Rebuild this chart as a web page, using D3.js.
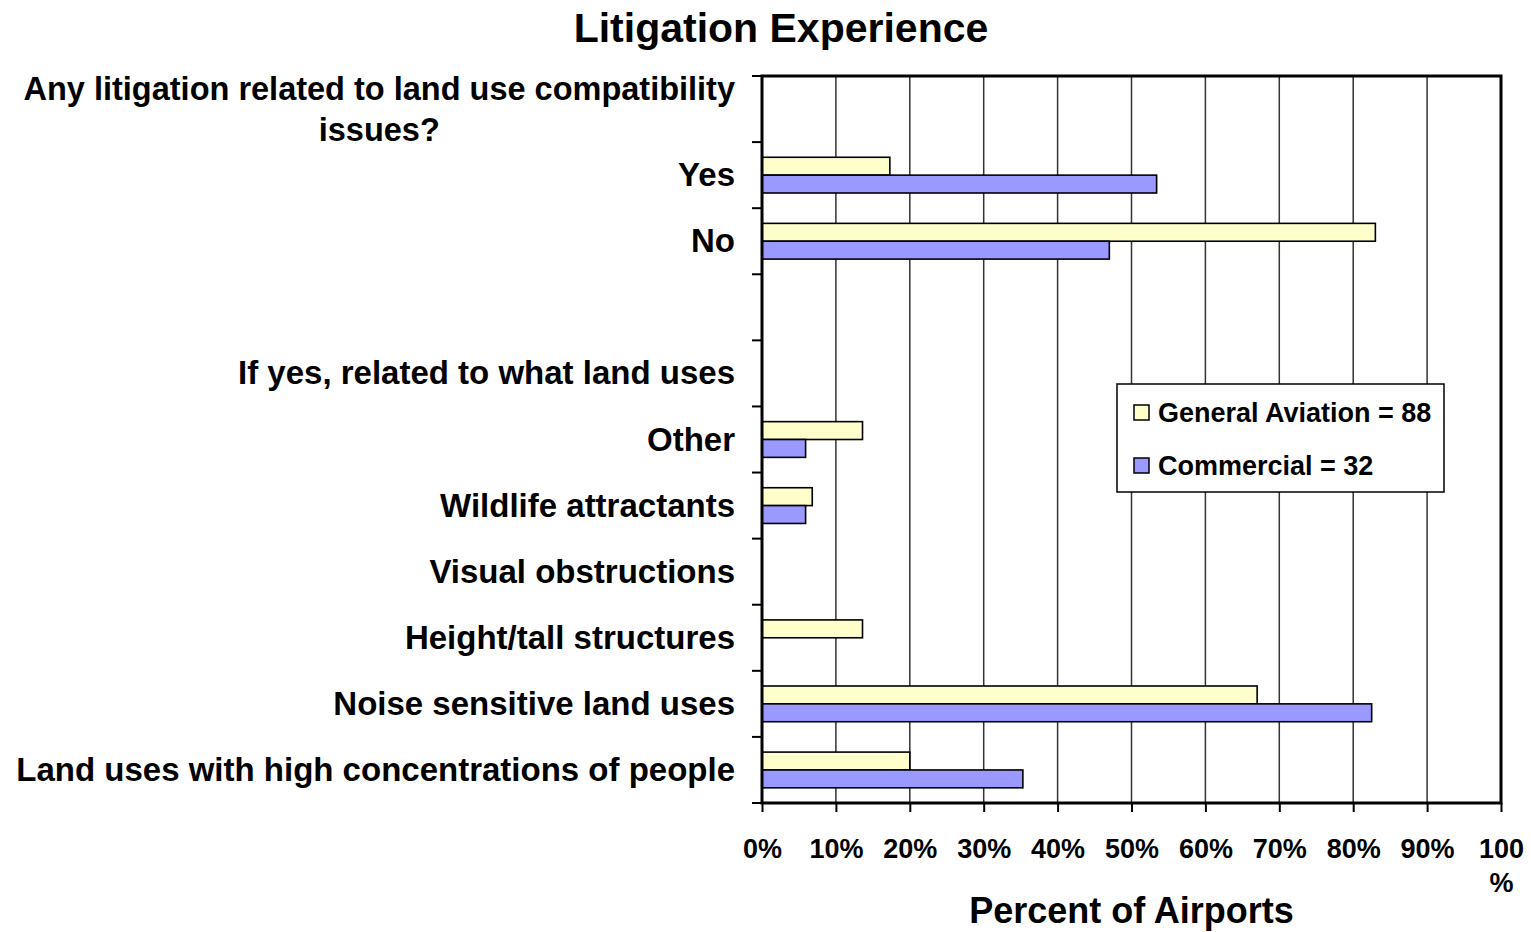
<!DOCTYPE html>
<html>
<head>
<meta charset="utf-8">
<script src="https://cdn.jsdelivr.net/npm/d3@7"></script>
<style>
  body { margin: 0; background: #fff; }
  text { font-family: "Liberation Sans", Arial, sans-serif; font-weight: bold; fill: #000; }
</style>
</head>
<body>
<div class="chart"></div>
<script>
// rows of the chart, top to bottom (header rows have no bars)
const categories = [
    "Any litigation related to land use compatibility issues?",
    "Yes",
    "No",
    "",
    "If yes, related to what land uses",
    "Other",
    "Wildlife attractants",
    "Visual obstructions",
    "Height/tall structures",
    "Noise sensitive land uses",
    "Land uses with high concentrations of people"
];
const generalAviation = [null, 17.3, 83, null, null, 13.6, 6.8, 0, 13.6, 67, 20];
const commercial = [null, 53.4, 47, null, null, 5.9, 5.9, 0, 0, 82.5, 35.3];
const seriesNames = ["General Aviation = 88", "Commercial = 32"];
const seriesColors = ["#FFFFCC", "#9999FF"];
const xTicks = [0, 10, 20, 30, 40, 50, 60, 70, 80, 90, 100];

const width = 1531;
const height = 932;
const margin = {top: 76, right: 30, bottom: 128, left: 762};

const svg = d3.select('.chart').append('svg')
    .attr('width', width)
    .attr('height', height);

const x = d3.scaleLinear()
    .domain([0, 100])
    .range([margin.left, 1501]);

const y = d3.scaleBand()
    .domain(d3.range(categories.length))
    .range([margin.top, height - margin.bottom - 1])
    .padding(0);

const sub = d3.scaleBand()
    .domain([0, 1])
    .range([0, y.bandwidth()])
    .paddingInner(0)
    .paddingOuter(0.85);

// gridlines
svg.append('g')
    .selectAll('line')
    .data(xTicks.slice(1, -1))
    .enter()
    .append('line')
    .attr('x1', d => x(d))
    .attr('x2', d => x(d))
    .attr('y1', y.range()[0])
    .attr('y2', y.range()[1])
    .attr('stroke', '#333')
    .attr('stroke-width', 1.5);

// bars
const series = [generalAviation, commercial];
series.forEach((vals, s) => {
    svg.append('g')
        .selectAll('rect')
        .data(vals.map((v, i) => ({v, i})).filter(d => d.v !== null && d.v > 0))
        .enter()
        .append('rect')
        .attr('x', x(0))
        .attr('y', d => y(d.i) + sub(s))
        .attr('width', d => x(d.v) - x(0))
        .attr('height', sub.bandwidth())
        .attr('fill', seriesColors[s])
        .attr('stroke', '#000')
        .attr('stroke-width', 1.6);
});

// frame
svg.append('rect')
    .attr('x', x(0))
    .attr('y', y.range()[0])
    .attr('width', x(100) - x(0))
    .attr('height', y.range()[1] - y.range()[0])
    .attr('fill', 'none')
    .attr('stroke', '#000')
    .attr('stroke-width', 3);

// left axis ticks at row boundaries
svg.append('g')
    .selectAll('line')
    .data(d3.range(categories.length + 1))
    .enter()
    .append('line')
    .attr('x1', x(0) - 10)
    .attr('x2', x(0))
    .attr('y1', d => y.range()[0] + d * y.step())
    .attr('y2', d => y.range()[0] + d * y.step())
    .attr('stroke', '#000')
    .attr('stroke-width', 2);

// bottom axis
const xAxis = svg.append('g')
    .attr('transform', `translate(0,${y.range()[1]})`)
    .call(d3.axisBottom(x).tickValues(xTicks).tickSize(9).tickFormat(d => d + '%'));
xAxis.select('.domain').remove();
xAxis.selectAll('line').attr('stroke', '#000').attr('stroke-width', 2);
xAxis.selectAll('text')
    .attr('font-size', 27)
    .attr('y', 0)
    .attr('dy', 0)
    .attr('transform', 'translate(0,55)')
    .each(function (d) {
        if (d === 100) {
            const t = d3.select(this);
            t.text(null);
            t.append('tspan').attr('x', 0).attr('y', 0).text('100');
            t.append('tspan').attr('x', 0).attr('y', 34).text('%');
        }
    });

// category labels
const labels = svg.append('g');
categories.forEach((c, i) => {
    if (!c) return;
    const cy = y(i) + y.bandwidth() / 2;
    if (i === 0) {
        const lines = ["Any litigation related to land use compatibility", "issues?"];
        const t = labels.append('text')
            .attr('font-size', 32.5)
            .attr('text-anchor', 'middle');
        lines.forEach((l, k) => {
            t.append('tspan')
                .attr('x', 0)
                .attr('y', cy + (k - 0.5) * 41 + 11)
                .text(l);
        });
        const w = t.select('tspan').node().getComputedTextLength();
        t.attr('transform', `translate(${735 - w / 2},0)`);
    } else {
        labels.append('text')
            .attr('x', 735)
            .attr('y', cy + 11)
            .attr('text-anchor', 'end')
            .attr('font-size', 33)
            .text(c);
    }
});

// title
svg.append('text')
    .attr('x', 781)
    .attr('y', 42)
    .attr('text-anchor', 'middle')
    .attr('font-size', 41)
    .text('Litigation Experience');

// axis title
svg.append('text')
    .attr('x', (x(0) + x(100)) / 2)
    .attr('y', 923)
    .attr('text-anchor', 'middle')
    .attr('font-size', 36)
    .text('Percent of Airports');

// legend
const legend = svg.append('g')
    .attr('transform', 'translate(1117,384)');
legend.append('rect')
    .attr('width', 327)
    .attr('height', 108)
    .attr('fill', '#fff')
    .attr('stroke', '#000')
    .attr('stroke-width', 1.5);
seriesNames.forEach((n, i) => {
    const g = legend.append('g').attr('transform', `translate(17,${28 + i * 53})`);
    g.append('rect')
        .attr('y', -7)
        .attr('width', 15)
        .attr('height', 15)
        .attr('fill', seriesColors[i])
        .attr('stroke', '#000')
        .attr('stroke-width', 1.5);
    g.append('text')
        .attr('x', 24)
        .attr('y', 10)
        .attr('font-size', 27)
        .text(n);
});
</script>
</body>
</html>
